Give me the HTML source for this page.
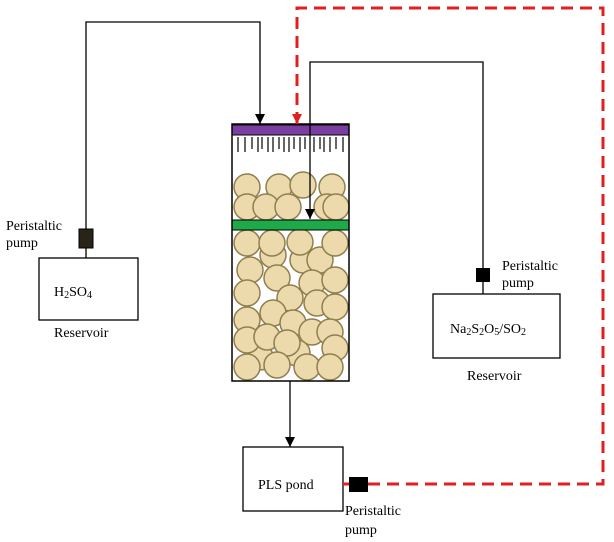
<!DOCTYPE html>
<html><head><style>body{margin:0;background:#fff}svg{display:block}text{font-family:"Liberation Serif",serif;font-size:14px;fill:#000}</style></head><body>
<svg width="614" height="542" viewBox="0 0 614 542" xmlns="http://www.w3.org/2000/svg">
<defs><marker id="a" markerWidth="10" markerHeight="10" refX="10" refY="5" orient="auto" markerUnits="userSpaceOnUse"><path d="M0,0 L10,5 L0,10 z" fill="#000"/></marker>
<marker id="ar" markerWidth="10" markerHeight="10" refX="10" refY="5" orient="auto" markerUnits="userSpaceOnUse"><path d="M0,0 L10,5 L0,10 z" fill="#e02020"/></marker></defs>
<g fill="#ecd9ac" stroke="#8f7f4f" stroke-width="1.5">
<circle cx="247" cy="187" r="13"/><circle cx="279" cy="187" r="13"/><circle cx="332" cy="187" r="13"/>
<circle cx="247" cy="207" r="13"/><circle cx="266" cy="207" r="13"/><circle cx="288" cy="207" r="13"/><circle cx="327" cy="207" r="13"/><circle cx="303" cy="185" r="13"/><circle cx="336" cy="207" r="13"/>
<circle cx="273" cy="255" r="13"/><circle cx="303" cy="260" r="13"/><circle cx="320" cy="260" r="13"/>
<circle cx="247" cy="243" r="13"/><circle cx="272" cy="243" r="13"/><circle cx="300" cy="242" r="13"/><circle cx="335" cy="243" r="13"/>
<circle cx="250" cy="270" r="13"/><circle cx="277" cy="278" r="13"/><circle cx="312" cy="283" r="13"/><circle cx="335" cy="280" r="13"/>
<circle cx="247" cy="293" r="13"/><circle cx="290" cy="298" r="13"/><circle cx="317" cy="303" r="13"/><circle cx="335" cy="307" r="13"/>
<circle cx="273" cy="313" r="13"/><circle cx="247" cy="320" r="13"/><circle cx="293" cy="323" r="13"/><circle cx="312" cy="332" r="13"/><circle cx="330" cy="332" r="13"/>
<circle cx="260" cy="357" r="13"/><circle cx="297" cy="353" r="13"/>
<circle cx="247" cy="340" r="13"/><circle cx="267" cy="337" r="13"/><circle cx="287" cy="343" r="13"/><circle cx="335" cy="348" r="13"/>
<circle cx="247" cy="367" r="13"/><circle cx="277" cy="365" r="13"/><circle cx="307" cy="367" r="13"/><circle cx="330" cy="367" r="13"/>
</g>
<rect x="232" y="220" width="117" height="10" fill="#1faa4a" stroke="#000" stroke-width="1"/>
<rect x="232" y="125" width="117" height="10" fill="#7a3ea0" stroke="#000" stroke-width="1"/>
<rect x="232" y="124" width="117" height="257" fill="none" stroke="#000" stroke-width="1.5"/>
<g stroke="#000" stroke-width="1.2">
<path d="M238 137v15M245 137v15M252 137v12M258 137v15M262 137v12M268 137v15M273 137v15M279 137v12M284 137v15M289 137v15M294 137v12M300 137v15M305 137v12M314 137v15M320 137v12M324 137v15M330 137v15M336 137v12M343 137v15"/>
</g>
<g fill="none" stroke="#000" stroke-width="1.3">
<path d="M86 229V22H260V124" marker-end="url(#a)"/>
<path d="M483 268V62H310V219" marker-end="url(#a)"/>
<path d="M290 381V447" marker-end="url(#a)"/>
<rect x="39" y="258" width="99" height="62"/>
<rect x="433" y="294" width="127" height="64"/>
<rect x="243" y="447" width="100" height="64"/>
<path d="M86 248V258M483 282V294"/>
</g>
<path d="M349 484H343" stroke="#e02020" stroke-width="3"/>
<path d="M368 484H603V8H297V124" fill="none" stroke="#e02020" stroke-width="3" stroke-dasharray="12,7" marker-end="url(#ar)"/>
<rect x="79" y="229" width="14" height="19" fill="#2a2418" stroke="#000"/>
<rect x="476" y="268" width="14" height="14" fill="#000"/>
<rect x="349" y="477" width="19" height="15" fill="#000"/>
<text x="6" y="230">Peristaltic</text><text x="6" y="247">pump</text>
<text x="54" y="296">H<tspan font-size="10" dy="2">2</tspan><tspan dy="-2">SO</tspan><tspan font-size="10" dy="2">4</tspan></text>
<text x="54" y="337">Reservoir</text>
<text x="502" y="270">Peristaltic</text><text x="502" y="287">pump</text>
<text x="450" y="333">Na<tspan font-size="10" dy="2">2</tspan><tspan dy="-2">S</tspan><tspan font-size="10" dy="2">2</tspan><tspan dy="-2">O</tspan><tspan font-size="10" dy="2">5</tspan><tspan dy="-2">/SO</tspan><tspan font-size="10" dy="2">2</tspan></text>
<text x="467" y="380">Reservoir</text>
<text x="258" y="489">PLS pond</text>
<text x="345" y="515">Peristaltic</text><text x="345" y="534">pump</text>
</svg>
</body></html>
